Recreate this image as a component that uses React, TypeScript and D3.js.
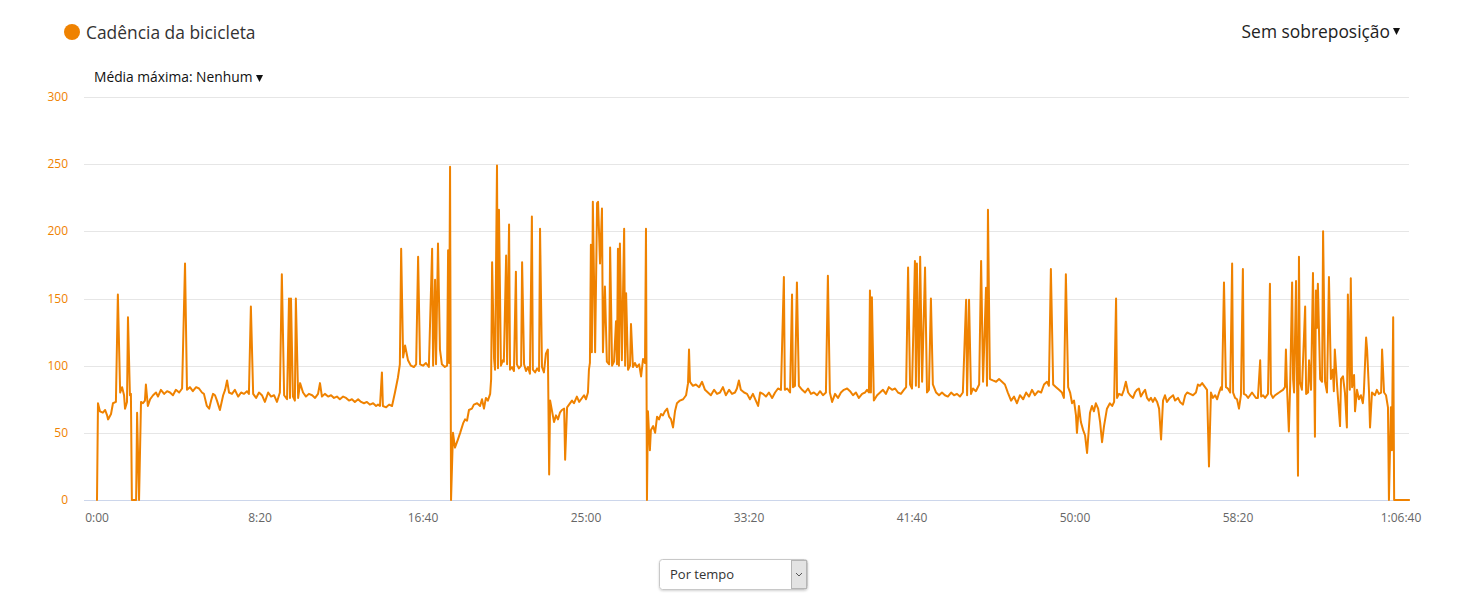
import React from "react";
import * as d3 from "d3";

const seriesName = "Cadência da bicicleta";
const overlayLabel = "Sem sobreposição";
const maxAvgLabel = "Média máxima: Nenhum";
const selectLabel = "Por tempo";
const yTicks = [0, 50, 100, 150, 200, 250, 300];
const xTicks = [0, 500, 1000, 1500, 2000, 2500, 3000, 3500, 4000];
const timeDomain = [0, 4000];
const cadenceDomain = [0, 300];

// [seconds, rpm]
const samples: [number, number][] = [
  [0, 0], [3, 72], [9, 66], [18, 65], [25, 67], [31, 63], [34, 60], [43, 64], [49, 72], [58, 73],
  [64, 153], [71, 80], [77, 84], [83, 78], [86, 68], [92, 73], [95, 136], [101, 78], [104, 79], [107, 0],
  [120, 0], [123, 65], [129, 0], [135, 73], [141, 72], [147, 74], [150, 86], [156, 70], [163, 75], [172, 78],
  [181, 80], [187, 77], [196, 82], [206, 79], [215, 81], [224, 80], [233, 78], [242, 82], [252, 80], [261, 83],
  [270, 176], [276, 82], [285, 84], [294, 81], [304, 84], [313, 83], [322, 80], [328, 79], [337, 70], [344, 68],
  [350, 74], [356, 79], [362, 78], [368, 74], [377, 67], [387, 78], [393, 82], [399, 89], [405, 80], [414, 79],
  [423, 82], [433, 77], [442, 80], [451, 79], [460, 81], [466, 79], [472, 144], [479, 79], [488, 76], [497, 80],
  [506, 78], [515, 73], [525, 80], [534, 77], [543, 78], [552, 73], [561, 80], [567, 168], [574, 78], [583, 75],
  [589, 150], [592, 76], [595, 150], [601, 77], [607, 74], [610, 150], [617, 76], [623, 87], [632, 80], [641, 77],
  [650, 79], [660, 78], [669, 76], [678, 79], [684, 87], [690, 77], [699, 79], [709, 77], [718, 78], [727, 76],
  [736, 77], [745, 75], [755, 77], [764, 76], [773, 74], [782, 75], [791, 73], [801, 75], [810, 73], [819, 72],
  [828, 73], [837, 71], [847, 72], [856, 70], [862, 71], [868, 70], [874, 95], [877, 70], [887, 69], [896, 71],
  [905, 70], [914, 80], [923, 91], [929, 101], [933, 187], [939, 106], [945, 115], [954, 104], [963, 100], [972, 99],
  [979, 101], [985, 181], [991, 101], [1000, 100], [1009, 102], [1018, 99], [1028, 187], [1031, 100], [1037, 164], [1040, 101],
  [1046, 191], [1052, 112], [1058, 101], [1067, 99], [1074, 100], [1077, 186], [1080, 102], [1083, 248], [1086, 0], [1092, 50],
  [1098, 39], [1107, 45], [1114, 50], [1123, 57], [1129, 60], [1135, 59], [1141, 67], [1150, 68], [1156, 71], [1166, 72],
  [1175, 70], [1181, 75], [1187, 68], [1193, 76], [1199, 74], [1206, 79], [1209, 90], [1212, 177], [1218, 105], [1221, 97],
  [1227, 249], [1230, 98], [1233, 216], [1239, 100], [1245, 104], [1248, 103], [1255, 182], [1258, 101], [1264, 205], [1267, 97],
  [1273, 99], [1279, 96], [1285, 170], [1288, 101], [1294, 98], [1301, 100], [1304, 177], [1310, 101], [1316, 96], [1322, 99],
  [1328, 94], [1334, 211], [1337, 97], [1344, 95], [1350, 98], [1356, 96], [1359, 202], [1365, 99], [1371, 95], [1377, 109],
  [1383, 112], [1387, 19], [1390, 74], [1396, 66], [1402, 58], [1408, 63], [1414, 60], [1420, 65], [1426, 67], [1433, 68],
  [1436, 30], [1442, 69], [1448, 71], [1457, 74], [1463, 72], [1472, 77], [1479, 73], [1485, 75], [1494, 78], [1500, 75],
  [1506, 80], [1509, 97], [1512, 102], [1515, 190], [1518, 110], [1521, 222], [1528, 110], [1534, 221], [1537, 222], [1543, 176],
  [1549, 217], [1552, 110], [1558, 159], [1564, 103], [1571, 101], [1574, 188], [1580, 100], [1586, 103], [1592, 133], [1595, 101],
  [1598, 187], [1601, 100], [1604, 191], [1610, 104], [1617, 202], [1620, 100], [1623, 154], [1629, 97], [1635, 100], [1638, 131],
  [1644, 99], [1650, 102], [1656, 99], [1663, 101], [1669, 92], [1675, 105], [1681, 102], [1684, 202], [1687, 0], [1690, 66],
  [1696, 37], [1699, 52], [1706, 55], [1712, 50], [1718, 62], [1724, 60], [1730, 64], [1736, 63], [1742, 66], [1749, 68],
  [1755, 62], [1761, 60], [1767, 54], [1773, 66], [1779, 72], [1788, 74], [1798, 75], [1807, 78], [1813, 87], [1816, 112],
  [1819, 88], [1828, 85], [1837, 86], [1847, 84], [1856, 88], [1865, 82], [1874, 80], [1883, 78], [1893, 82], [1902, 79],
  [1911, 80], [1920, 84], [1929, 78], [1939, 82], [1948, 79], [1957, 80], [1963, 83], [1969, 89], [1975, 82], [1985, 80],
  [1994, 79], [2003, 75], [2012, 79], [2021, 74], [2028, 70], [2034, 80], [2043, 79], [2052, 77], [2061, 80], [2071, 76],
  [2080, 80], [2089, 83], [2098, 82], [2107, 166], [2110, 82], [2117, 83], [2126, 80], [2132, 153], [2135, 84], [2141, 85],
  [2147, 162], [2153, 85], [2163, 82], [2172, 80], [2181, 83], [2190, 79], [2199, 80], [2209, 78], [2218, 81], [2227, 78],
  [2236, 80], [2242, 167], [2248, 80], [2255, 73], [2264, 79], [2273, 76], [2282, 80], [2291, 82], [2301, 83], [2310, 81],
  [2319, 78], [2328, 80], [2337, 76], [2347, 79], [2356, 80], [2362, 82], [2368, 80], [2371, 156], [2374, 80], [2377, 151],
  [2383, 74], [2393, 78], [2402, 80], [2411, 82], [2420, 79], [2429, 84], [2439, 82], [2448, 83], [2457, 80], [2466, 79],
  [2475, 82], [2482, 84], [2488, 173], [2494, 86], [2500, 83], [2509, 178], [2512, 85], [2515, 176], [2521, 84], [2525, 181],
  [2531, 88], [2540, 173], [2546, 80], [2552, 82], [2558, 150], [2564, 86], [2574, 80], [2583, 78], [2592, 80], [2601, 78],
  [2610, 77], [2620, 80], [2629, 78], [2638, 79], [2647, 77], [2656, 80], [2666, 149], [2669, 78], [2675, 149], [2681, 79],
  [2687, 83], [2696, 81], [2706, 86], [2712, 178], [2718, 88], [2727, 158], [2730, 85], [2733, 216], [2739, 90], [2748, 89],
  [2758, 88], [2767, 90], [2776, 88], [2785, 86], [2794, 80], [2804, 74], [2813, 77], [2822, 72], [2831, 78], [2841, 75],
  [2850, 80], [2859, 77], [2868, 82], [2877, 78], [2887, 81], [2896, 80], [2905, 86], [2914, 88], [2920, 85], [2926, 172],
  [2933, 86], [2942, 84], [2951, 82], [2960, 80], [2966, 76], [2972, 168], [2979, 84], [2985, 80], [2991, 72], [2997, 74],
  [3003, 63], [3006, 50], [3012, 70], [3018, 58], [3025, 52], [3031, 48], [3037, 35], [3043, 55], [3046, 65], [3052, 70],
  [3058, 66], [3064, 72], [3071, 68], [3077, 58], [3083, 43], [3089, 55], [3098, 68], [3107, 72], [3114, 70], [3120, 73],
  [3126, 150], [3129, 76], [3135, 79], [3144, 78], [3150, 82], [3156, 88], [3163, 80], [3169, 78], [3178, 76], [3184, 80],
  [3190, 82], [3196, 83], [3202, 77], [3209, 80], [3215, 82], [3221, 76], [3227, 74], [3233, 76], [3239, 73], [3245, 76],
  [3252, 73], [3258, 68], [3264, 45], [3270, 74], [3276, 78], [3282, 73], [3291, 76], [3301, 78], [3307, 74], [3316, 76],
  [3322, 73], [3331, 71], [3338, 78], [3344, 80], [3353, 79], [3362, 78], [3371, 80], [3377, 86], [3383, 85], [3390, 87],
  [3399, 84], [3405, 82], [3411, 25], [3417, 80], [3423, 76], [3430, 78], [3436, 75], [3442, 80], [3448, 84], [3451, 82],
  [3457, 162], [3463, 84], [3469, 83], [3476, 80], [3482, 176], [3485, 80], [3491, 76], [3497, 75], [3503, 68], [3509, 78],
  [3515, 172], [3518, 79], [3525, 78], [3531, 76], [3537, 78], [3543, 80], [3549, 78], [3555, 76], [3561, 76], [3568, 104],
  [3571, 77], [3577, 78], [3583, 76], [3592, 79], [3598, 161], [3601, 79], [3607, 76], [3614, 78], [3620, 79], [3626, 80],
  [3632, 81], [3638, 82], [3644, 84], [3647, 112], [3650, 86], [3656, 51], [3660, 85], [3666, 162], [3669, 90], [3672, 80],
  [3678, 163], [3684, 18], [3687, 181], [3690, 88], [3696, 82], [3706, 144], [3709, 79], [3715, 80], [3718, 104], [3724, 82],
  [3730, 169], [3736, 47], [3739, 156], [3742, 128], [3745, 161], [3752, 90], [3758, 88], [3761, 200], [3767, 88], [3773, 80],
  [3779, 166], [3785, 90], [3791, 97], [3794, 81], [3797, 112], [3804, 85], [3813, 55], [3816, 90], [3822, 92], [3828, 80],
  [3834, 54], [3837, 153], [3843, 82], [3846, 165], [3850, 84], [3856, 93], [3859, 66], [3865, 82], [3871, 75], [3877, 78],
  [3883, 72], [3886, 80], [3893, 121], [3896, 112], [3902, 80], [3905, 54], [3911, 80], [3920, 78], [3926, 82], [3932, 79],
  [3939, 80], [3942, 112], [3948, 80], [3954, 78], [3960, 69], [3963, 0], [3969, 69], [3972, 37], [3976, 136], [3979, 0],
  [4025, 0],
];

const ORANGE = "#ef8200";
const FONT = "'Open Sans', 'Noto Sans', sans-serif";

function fmtTime(s: number): string {
  const h = Math.floor(s / 3600);
  const m = Math.floor((s % 3600) / 60);
  const sec = Math.floor(s % 60);
  const ss = String(sec).padStart(2, "0");
  if (h > 0) return `${h}:${String(m).padStart(2, "0")}:${ss}`;
  return `${m}:${ss}`;
}

export default function App() {
  const W = 1465;
  const H = 603;
  const plotLeft = 84;
  const plotRight = 1409;
  const x = d3.scaleLinear().domain(timeDomain).range([97, 1401]);
  const y = d3.scaleLinear().domain(cadenceDomain).range([500, 97]);
  const line = d3
    .line<[number, number]>()
    .x((d) => x(d[0]))
    .y((d) => y(d[1]));

  return (
    <div style={{ position: "absolute", left: 0, top: 0, width: W, height: H, background: "#fff" }}>
      <svg width={W} height={H} style={{ display: "block", fontFamily: FONT }}>
        <defs>
          <filter id="shadow" x="-10%" y="-20%" width="120%" height="160%">
            <feDropShadow dx="0" dy="1" stdDeviation="1.2" floodColor="#000" floodOpacity="0.18" />
          </filter>
        </defs>
        {/* legend */}
        <circle cx={72} cy={32} r={8} fill={ORANGE} />
        <text x={86} y={39} fontSize={17.4} fill="#333" fontWeight={400}>
          {seriesName}
        </text>
        <text x={1390} y={38} fontSize={17.4} fill="#222" textAnchor="end">
          {overlayLabel}
        </text>
        <path d="M1393,28 L1400,28 L1396.5,35 Z" fill="#111" />
        <text x={94} y={82} fontSize={13.8} fill="#111">
          {maxAvgLabel}
        </text>
        <path d="M256,75 L263,75 L259.5,82 Z" fill="#111" />

        {/* grid */}
        {yTicks.map((t) => (
          <g key={t}>
            {t > 0 && (
              <line x1={plotLeft} x2={plotRight} y1={Math.round(y(t)) + 0.5} y2={Math.round(y(t)) + 0.5} stroke="#e6e6e6" strokeWidth={1} />
            )}
            <text x={68} y={y(t) + 4} fontSize={12} fill={ORANGE} textAnchor="end">
              {t}
            </text>
          </g>
        ))}
        <line x1={plotLeft} x2={plotRight} y1={500.5} y2={500.5} stroke="#ccd6eb" strokeWidth={1} />
        {xTicks.map((t) => (
          <text key={t} x={x(t)} y={522} fontSize={12} fill="#666" textAnchor="middle">
            {fmtTime(t)}
          </text>
        ))}

        {/* series */}
        <path d={line(samples) || ""} fill="none" stroke={ORANGE} strokeWidth={2} strokeLinejoin="round" strokeLinecap="round" />

        {/* select */}
        <g filter="url(#shadow)">
          <rect x={659.5} y={559.5} width={148} height={30} rx={3} fill="#fff" stroke="#c8c8c8" />
        </g>
        <rect x={791.5} y={560.5} width={15} height={28} fill="#e3e3e3" stroke="#b5b5b5" />
        <path d="M796,573 L799,576 L802,573" fill="none" stroke="#555" strokeWidth={1} />
        <text x={670} y={579} fontSize={13} fill="#333">
          {selectLabel}
        </text>
      </svg>
    </div>
  );
}
